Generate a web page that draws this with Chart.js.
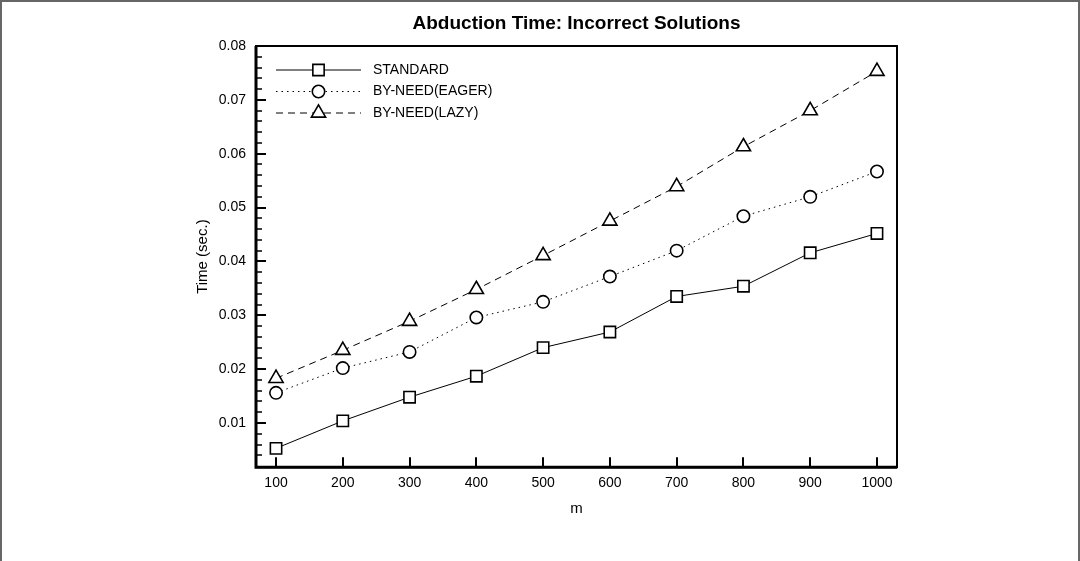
<!DOCTYPE html>
<html>
<head>
<meta charset="utf-8">
<title>Abduction Time: Incorrect Solutions</title>
<script src="https://cdn.jsdelivr.net/npm/chart.js@4.4.1/dist/chart.umd.min.js"></script>
<style>
  html, body { margin: 0; padding: 0; background: #fff; }
  #wrap { position: relative; width: 1080px; height: 561px; }
</style>
</head>
<body>
<div id="wrap"><canvas id="abductionChart"></canvas></div>
<script>
// values
const mValues = [100, 200, 300, 400, 500, 600, 700, 800, 900, 1000];
const standardTimes = [0.0053, 0.0104, 0.0148, 0.0187, 0.0240, 0.0269, 0.0335, 0.0354, 0.0416, 0.0452];
const eagerTimes = [0.0156, 0.0202, 0.0232, 0.0296, 0.0325, 0.0372, 0.0420, 0.0484, 0.0520, 0.0567];
const lazyTimes = [0.0183, 0.0235, 0.0289, 0.0348, 0.0411, 0.0475, 0.0539, 0.0613, 0.0680, 0.0753];

const xTickValues = [100, 200, 300, 400, 500, 600, 700, 800, 900, 1000];
const yTickValues = [0.01, 0.02, 0.03, 0.04, 0.05, 0.06, 0.07, 0.08];
const yMinorTickValues = [
  0.004, 0.006, 0.008, 0.012, 0.014, 0.016, 0.018, 0.022, 0.024, 0.026, 0.028,
  0.032, 0.034, 0.036, 0.038, 0.042, 0.044, 0.046, 0.048, 0.052, 0.054, 0.056, 0.058,
  0.062, 0.064, 0.066, 0.068, 0.072, 0.074, 0.076, 0.078
];

const FONT = '"Liberation Sans", Arial, Helvetica, sans-serif';

function toPoints(values) {
  return mValues.map((m, i) => ({ x: m, y: values[i] }));
}

function seriesStyle(label, values, pointStyle, radius, dash) {
  return {
    label,
    data: toPoints(values),
    borderColor: '#000',
    borderWidth: 1,
    borderDash: dash,
    pointStyle,
    pointRadius: radius,
    pointBackgroundColor: '#fff',
    pointBorderColor: '#000',
    pointBorderWidth: 1.6,
    tension: 0,
  };
}

// inward ticks + plot frame, and the thin page border
const frameAndTicks = {
  id: 'frameAndTicks',
  beforeDraw(chart) {
    const { ctx, width, height } = chart;
    ctx.save();
    ctx.strokeStyle = '#666';
    ctx.lineWidth = 2;
    ctx.beginPath();
    ctx.moveTo(1, height);
    ctx.lineTo(1, 1);
    ctx.lineTo(width - 1, 1);
    ctx.lineTo(width - 1, height);
    ctx.stroke();
    ctx.restore();
  },
  afterDraw(chart) {
    const { ctx, chartArea: a, scales: { x, y } } = chart;
    ctx.save();
    ctx.strokeStyle = '#000';
    ctx.lineWidth = 2;
    ctx.strokeRect(a.left, a.top, a.right - a.left, a.bottom - a.top);
    ctx.lineWidth = 3;
    ctx.beginPath();
    ctx.moveTo(a.left, a.top);
    ctx.lineTo(a.left, a.bottom);
    ctx.lineTo(a.right, a.bottom);
    ctx.stroke();

    ctx.lineWidth = 2;
    ctx.beginPath();
    xTickValues.forEach((v) => {
      const px = Math.round(x.getPixelForValue(v));
      ctx.moveTo(px, a.bottom);
      ctx.lineTo(px, a.bottom - 10);
    });
    yTickValues.forEach((v) => {
      const py = Math.round(y.getPixelForValue(v));
      ctx.moveTo(a.left, py);
      ctx.lineTo(a.left + 10, py);
    });
    ctx.stroke();

    ctx.lineWidth = 1.5;
    ctx.beginPath();
    yMinorTickValues.forEach((v) => {
      const py = Math.round(y.getPixelForValue(v));
      ctx.moveTo(a.left, py);
      ctx.lineTo(a.left + 6, py);
    });
    ctx.stroke();
    ctx.restore();
  },
};

// legend in the upper left of the plot, line with marker in the middle
const insideLegend = {
  id: 'insideLegend',
  afterDraw(chart) {
    const { ctx, chartArea: a } = chart;
    chart.data.datasets.forEach((ds, i) => {
      const yy = a.top + 24 + i * 21.5;
      const x0 = a.left + 20;
      const x1 = a.left + 105;
      const xm = (x0 + x1) / 2;

      ctx.save();
      ctx.strokeStyle = ds.borderColor;
      ctx.lineWidth = ds.borderWidth;
      ctx.setLineDash(ds.borderDash || []);
      ctx.beginPath();
      ctx.moveTo(x0, yy);
      ctx.lineTo(x1, yy);
      ctx.stroke();
      ctx.restore();

      ctx.save();
      ctx.fillStyle = '#fff';
      ctx.strokeStyle = '#000';
      ctx.lineWidth = ds.pointBorderWidth;
      Chart.helpers.drawPoint(ctx, {
        pointStyle: ds.pointStyle,
        radius: ds.pointRadius,
        borderWidth: ds.pointBorderWidth,
        rotation: 0,
      }, xm, yy);
      ctx.restore();

      ctx.save();
      ctx.fillStyle = '#000';
      ctx.font = '14px ' + FONT;
      ctx.textBaseline = 'middle';
      ctx.fillText(ds.label, a.left + 117, yy);
      ctx.restore();
    });
  },
};

Chart.defaults.font.family = FONT;
Chart.defaults.color = '#000';

new Chart(document.getElementById('abductionChart'), {
  type: 'line',
  data: {
    datasets: [
      seriesStyle('STANDARD', standardTimes, 'rect', 8, []),
      seriesStyle('BY-NEED(EAGER)', eagerTimes, 'circle', 6.2, [1.5, 4]),
      seriesStyle('BY-NEED(LAZY)', lazyTimes, 'triangle', 8.2, [7, 5]),
    ],
  },
  options: {
    responsive: true,
    maintainAspectRatio: false,
    animation: false,
    events: [],
    layout: {
      padding: { left: 180, right: 183, top: 0, bottom: 41 },
    },
    scales: {
      x: {
        type: 'linear',
        min: 70,
        max: 1030,
        afterBuildTicks: (scale) => {
          scale.ticks = xTickValues.map((v) => ({ value: v }));
        },
        ticks: {
          padding: 8,
          maxRotation: 0,
          font: { size: 14 },
          callback: (v) => String(v),
        },
        grid: { display: false, drawTicks: false },
        border: { display: false },
        title: {
          display: true,
          text: 'm',
          font: { size: 15 },
          padding: { top: 0, bottom: 2 },
        },
      },
      y: {
        type: 'linear',
        min: 0.0018,
        max: 0.08,
        afterBuildTicks: (scale) => {
          scale.ticks = yTickValues.map((v) => ({ value: v }));
        },
        afterFit: (scale) => {
          scale.width = 76;
        },
        ticks: {
          padding: 10,
          font: { size: 14 },
          callback: (v) => v.toFixed(2),
        },
        grid: { display: false, drawTicks: false },
        border: { display: false },
        title: {
          display: true,
          text: 'Time (sec.)',
          font: { size: 15 },
          padding: { top: 14, bottom: 0 },
        },
      },
    },
    plugins: {
      legend: { display: false },
      tooltip: { enabled: false },
      title: {
        display: true,
        text: 'Abduction Time: Incorrect Solutions',
        fullSize: false,
        font: { size: 19, weight: 'bold' },
        color: '#000',
        padding: { top: 12.5, bottom: 10.7 },
      },
    },
  },
  plugins: [frameAndTicks, insideLegend],
});
</script>
</body>
</html>
